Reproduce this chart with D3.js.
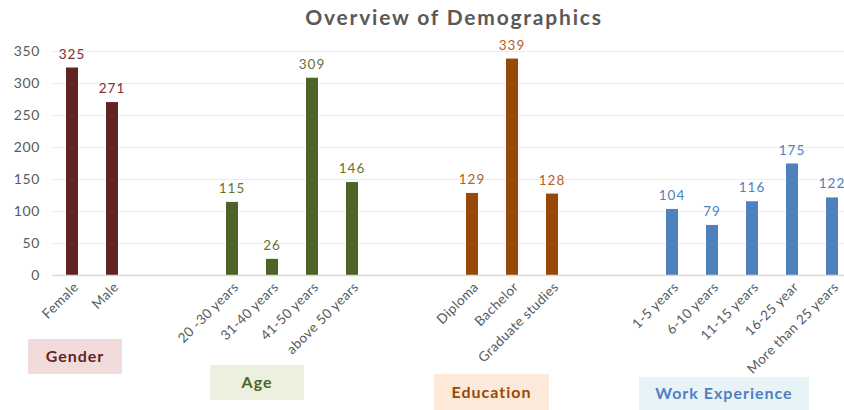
<!DOCTYPE html>
<html>
<head>
<meta charset="utf-8">
<script src="https://cdn.jsdelivr.net/npm/d3@7"></script>
<style>
  body { margin: 0; background: #fff; }
  svg { font-family: Lato, "Open Sans", sans-serif; }
</style>
</head>
<body>
<div id="chart"></div>
<script>
// data
const groupNames = ["Gender", "Age", "Education", "Work Experience"];
const genderCats = ["Female", "Male"];
const genderVals = [325, 271];
const ageCats = ["20 -30 years", "31-40 years", "41-50 years", "above 50 years"];
const ageVals = [115, 26, 309, 146];
const eduCats = ["Diploma", "Bachelor", "Graduate studies"];
const eduVals = [129, 339, 128];
const workCats = ["1-5 years", "6-10 years", "11-15 years", "16-25 year", "More than 25 years"];
const workVals = [104, 79, 116, 175, 122];
const yTicks = [0, 50, 100, 150, 200, 250, 300, 350];

const barColors = ["#632523", "#4f6228", "#984807", "#4f81bd"];
const labelColors = ["#7b2f2c", "#5f7532", "#b5601c", "#4f81bd"];
const boxFills = ["#f2dcdb", "#ebf1de", "#fde9d9", "#e8f3f8"];
// group label boxes: [x, y, w, h]
const boxes = [[28, 339, 94, 35], [210, 365, 94, 35], [434, 374, 115, 36], [639, 377, 170, 33]];

const W = 844, H = 410;
const groups = [
  {cats: genderCats, vals: genderVals},
  {cats: ageCats, vals: ageVals},
  {cats: eduCats, vals: eduVals},
  {cats: workCats, vals: workVals}
];

// flatten with two empty slots between groups
const rows = [];
const slots = [];
groups.forEach((g, gi) => {
  if (gi > 0) { slots.push("_gap" + gi + "a", "_gap" + gi + "b"); }
  g.cats.forEach((c, i) => {
    slots.push(c);
    rows.push({cat: c, val: g.vals[i], g: gi});
  });
});

const svg = d3.select("#chart").append("svg")
    .attr("width", W).attr("height", H);

const x = d3.scaleBand()
    .domain(slots)
    .range([52, 852])
    .paddingInner(0.7)
    .paddingOuter(0.35);

const y = d3.scaleLinear()
    .domain([0, 350])
    .range([275.5, 51.5]);

// gridlines
svg.append("g").selectAll("line")
  .data(yTicks.slice(1))
  .enter().append("line")
    .attr("x1", 52).attr("x2", W)
    .attr("y1", d => y(d)).attr("y2", d => y(d))
    .attr("stroke", "#ececec").attr("stroke-width", 1);

// y axis labels
const yAxis = svg.append("g")
    .attr("transform", "translate(43,0)")
    .call(d3.axisLeft(y).tickValues(yTicks).tickSize(0).tickPadding(3));
yAxis.select(".domain").remove();
yAxis.selectAll("text")
    .attr("font-family", "Lato, sans-serif")
    .attr("font-size", 14)
    .attr("letter-spacing", 0.6)
    .attr("fill", "#595959");

// bars
svg.append("g").selectAll("rect")
  .data(rows)
  .enter().append("rect")
    .attr("x", d => x(d.cat))
    .attr("y", d => y(d.val))
    .attr("width", x.bandwidth())
    .attr("height", d => y(0) - y(d.val))
    .attr("fill", d => barColors[d.g]);

// baseline
svg.append("line")
    .attr("x1", 52).attr("x2", W)
    .attr("y1", y(0)).attr("y2", y(0))
    .attr("stroke", "#d9d9d9").attr("stroke-width", 1.5);

// value labels
svg.append("g").selectAll("text")
  .data(rows)
  .enter().append("text")
    .attr("x", d => x(d.cat) + x.bandwidth() / 2)
    .attr("y", d => y(d.val) - 9)
    .attr("text-anchor", "middle")
    .attr("font-size", 13.5)
    .attr("letter-spacing", 1)
    .attr("fill", d => labelColors[d.g])
    .text(d => d.val);

// category labels
svg.append("g").selectAll("text")
  .data(rows)
  .enter().append("text")
    .attr("transform", d => `translate(${x(d.cat) + x.bandwidth() / 2 + 4},${y(0) + 9}) rotate(-45)`)
    .attr("text-anchor", "end")
    .attr("dy", "0.35em")
    .attr("font-size", 13.5)
    .attr("letter-spacing", 0.4)
    .attr("fill", "#595959")
    .text(d => d.cat);

// group boxes
const gb = svg.append("g").selectAll("g")
  .data(groupNames)
  .enter().append("g");
gb.append("rect")
    .attr("x", (d, i) => boxes[i][0]).attr("y", (d, i) => boxes[i][1])
    .attr("width", (d, i) => boxes[i][2]).attr("height", (d, i) => boxes[i][3])
    .attr("fill", (d, i) => boxFills[i]);
gb.append("text")
    .attr("x", (d, i) => boxes[i][0] + boxes[i][2] / 2)
    .attr("y", (d, i) => boxes[i][1] + boxes[i][3] / 2)
    .attr("dy", "0.35em")
    .attr("text-anchor", "middle")
    .attr("font-size", 16)
    .attr("font-weight", "bold")
    .attr("letter-spacing", 1)
    .attr("fill", (d, i) => barColors[i])
    .text(d => d);

// title
svg.append("text")
    .attr("x", 454).attr("y", 25)
    .attr("text-anchor", "middle")
    .attr("font-size", 21)
    .attr("font-weight", "bold")
    .attr("letter-spacing", 1.8)
    .attr("fill", "#595959")
    .text("Overview of Demographics");
</script>
</body>
</html>
